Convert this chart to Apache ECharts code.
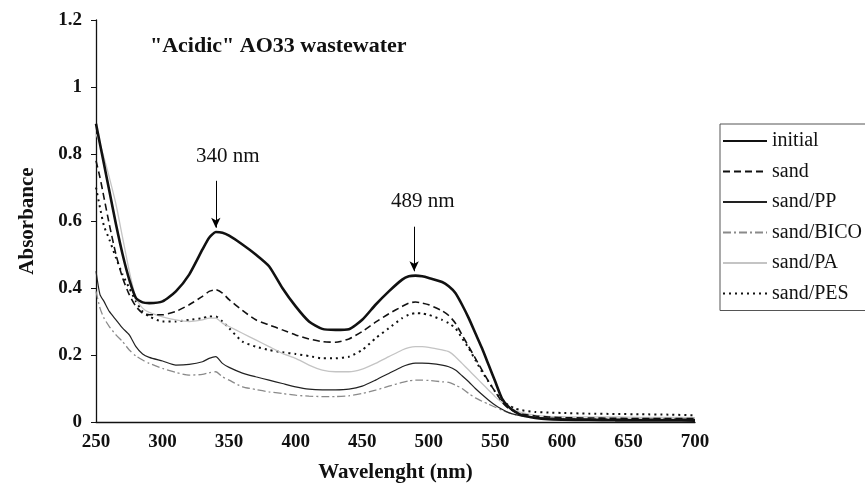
<!DOCTYPE html>
<html>
<head>
<meta charset="utf-8">
<script src="https://cdn.jsdelivr.net/npm/echarts@6/dist/echarts.min.js"></script>
<style>html,body{margin:0;padding:0;background:#fff;}#chart{width:865px;height:488px;}</style>
</head>
<body>
<div id="chart"></div>
<script>
const wavelengths = [250,253,256,260,265,270,275,280,285,290,300,310,320,330,335,340,345,350,360,370,380,390,400,410,420,430,440,450,460,470,480,485,490,495,500,510,515,520,525,530,535,540,545,550,555,560,565,570,580,590,600,620,640,660,680,700];
const initial = [0.89,0.83,0.77,0.69,0.59,0.50,0.425,0.37,0.357,0.355,0.36,0.39,0.44,0.515,0.55,0.567,0.565,0.556,0.53,0.50,0.465,0.40,0.345,0.30,0.278,0.275,0.277,0.305,0.35,0.39,0.425,0.435,0.437,0.435,0.43,0.418,0.405,0.385,0.35,0.31,0.265,0.22,0.17,0.12,0.07,0.045,0.03,0.02,0.012,0.008,0.007,0.006,0.005,0.005,0.005,0.004];
const sand = [0.78,0.73,0.67,0.59,0.50,0.43,0.38,0.345,0.325,0.32,0.32,0.33,0.35,0.375,0.39,0.395,0.385,0.365,0.333,0.305,0.29,0.275,0.26,0.248,0.24,0.238,0.248,0.27,0.298,0.323,0.345,0.355,0.358,0.355,0.35,0.332,0.318,0.295,0.26,0.225,0.19,0.155,0.12,0.09,0.06,0.04,0.03,0.024,0.018,0.015,0.013,0.012,0.011,0.01,0.01,0.01];
const sandPP = [0.45,0.38,0.36,0.33,0.305,0.28,0.26,0.225,0.203,0.193,0.182,0.17,0.172,0.18,0.19,0.195,0.175,0.163,0.146,0.135,0.125,0.115,0.105,0.098,0.096,0.096,0.098,0.107,0.125,0.145,0.165,0.172,0.176,0.176,0.175,0.17,0.165,0.155,0.138,0.12,0.1,0.082,0.065,0.05,0.038,0.028,0.022,0.018,0.014,0.012,0.01,0.009,0.008,0.008,0.008,0.008];
const sandBICO = [0.39,0.34,0.31,0.285,0.26,0.24,0.215,0.197,0.185,0.175,0.16,0.148,0.14,0.142,0.147,0.15,0.135,0.125,0.105,0.097,0.09,0.085,0.08,0.077,0.076,0.076,0.078,0.085,0.095,0.107,0.118,0.123,0.125,0.125,0.124,0.12,0.118,0.11,0.1,0.085,0.072,0.062,0.053,0.044,0.035,0.028,0.022,0.018,0.014,0.012,0.011,0.01,0.01,0.01,0.01,0.01];
const sandPA = [0.86,0.83,0.79,0.73,0.65,0.55,0.45,0.37,0.34,0.327,0.314,0.305,0.30,0.305,0.31,0.31,0.295,0.285,0.265,0.245,0.225,0.205,0.19,0.17,0.155,0.15,0.15,0.158,0.175,0.195,0.215,0.222,0.225,0.225,0.223,0.215,0.21,0.195,0.175,0.155,0.135,0.115,0.095,0.075,0.058,0.045,0.035,0.028,0.02,0.017,0.016,0.015,0.015,0.014,0.014,0.013];
const sandPES = [0.70,0.64,0.585,0.545,0.49,0.44,0.40,0.36,0.33,0.315,0.30,0.30,0.305,0.31,0.315,0.315,0.30,0.28,0.24,0.225,0.215,0.208,0.203,0.197,0.19,0.19,0.195,0.215,0.25,0.28,0.31,0.32,0.325,0.324,0.32,0.305,0.295,0.28,0.25,0.22,0.185,0.15,0.12,0.09,0.065,0.05,0.04,0.035,0.03,0.028,0.027,0.025,0.024,0.023,0.022,0.02];
const seriesNames = ['initial','sand','sand/PP','sand/BICO','sand/PA','sand/PES'];
const yTicks = [0,0.2,0.4,0.6,0.8,1,1.2];
const xTicks = [250,300,350,400,450,500,550,600,650,700];
const peakArrows = [[340,0.72,0.58],[489,0.583,0.45]];
const peakLabels = ['340 nm','489 nm'];

const FONT = 'Liberation Serif, Times New Roman, serif';
function pairs(vals){ return wavelengths.map((w,i)=>[w,vals[i]]); }
const styles = [
  {color:'#111', width:2.6, type:'solid'},
  {color:'#111', width:1.6, type:[7,4]},
  {color:'#222', width:1.2, type:'solid'},
  {color:'#8a8a8a', width:1.3, type:[8,3,2,3]},
  {color:'#c4c4c4', width:1.3, type:'solid'},
  {color:'#111', width:2, type:[2,4]}
];
const allVals = [initial, sand, sandPP, sandBICO, sandPA, sandPES];
const series = allVals.map((v,i)=>({
  name: seriesNames[i], type:'line', data: pairs(v), showSymbol:false, symbol:'none',
  smooth:0.2, lineStyle: styles[i], itemStyle:{color: styles[i].color}, z: 10-i,
  animation:false
}));
series[0].markLine = {
  silent:true, symbol:['none','arrow'], symbolSize:[7,10], animation:false,
  lineStyle:{color:'#000', width:1, type:'solid'}, label:{show:false},
  data: peakArrows.map(a=>[{coord:[a[0],a[1]]},{coord:[a[0],a[2]]}])
};

const chart = echarts.init(document.getElementById('chart'), null, {renderer:'canvas'});
chart.setOption({
  animation:false,
  backgroundColor:'#fff',
  title:{text:'"Acidic" AO33 wastewater', left:145, top:30, padding:5,
    textStyle:{fontFamily:FONT, fontWeight:'bold', fontSize:22, color:'#111'}},
  grid:{left:96, top:20, right:170, bottom:66, containLabel:false},
  legend:{orient:'vertical', left:720, top:124, padding:[7,30,7,2], itemGap:10.5,
    itemWidth:44, itemHeight:12, borderColor:'#555', borderWidth:1, backgroundColor:'#fff',
    itemStyle:{opacity:0, borderWidth:0},
    data: seriesNames,
    textStyle:{fontFamily:FONT, fontSize:20, color:'#111', lineHeight:20}},
  xAxis:{type:'value', min:xTicks[0], max:xTicks[xTicks.length-1], interval:50,
    name:'Wavelenght (nm)', nameLocation:'middle', nameGap:40,
    nameTextStyle:{fontFamily:FONT, fontWeight:'bold', fontSize:21, color:'#111'},
    axisLine:{lineStyle:{color:'#111', width:1.3}}, axisTick:{show:false},
    splitLine:{show:false},
    axisLabel:{fontFamily:FONT, fontWeight:'bold', fontSize:19, color:'#111', margin:11}},
  yAxis:{type:'value', min:yTicks[0], max:yTicks[yTicks.length-1], interval:0.2,
    name:'Absorbance', nameLocation:'middle', nameGap:58,
    nameTextStyle:{fontFamily:FONT, fontWeight:'bold', fontSize:21, color:'#111'},
    axisLine:{show:true, lineStyle:{color:'#111', width:1.3}},
    axisTick:{show:true, length:5, lineStyle:{color:'#111'}},
    splitLine:{show:false},
    axisLabel:{fontFamily:FONT, fontWeight:'bold', fontSize:19, color:'#111', margin:14,
      formatter:v=>String(Math.round(v*10)/10)}},
  graphic:[
    {type:'text', left:196, top:146, style:{text:peakLabels[0], font:'21px '+FONT, fill:'#111'}},
    {type:'text', left:391, top:191, style:{text:peakLabels[1], font:'21px '+FONT, fill:'#111'}}
  ],
  series: series
});
</script>
</body>
</html>
